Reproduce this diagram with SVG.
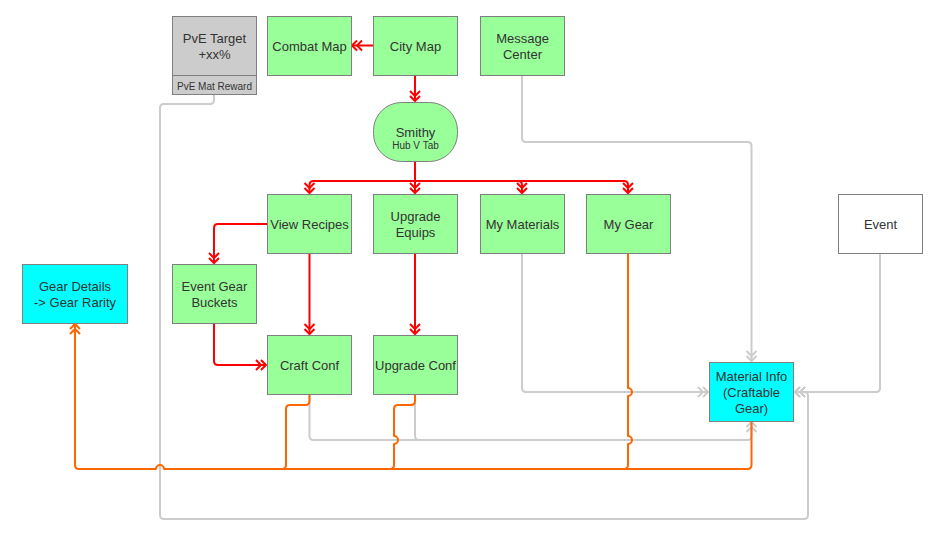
<svg xmlns="http://www.w3.org/2000/svg" width="943" height="543" viewBox="0 0 943 543">
<defs>
<style>
.n{stroke:#808080;stroke-width:1}
.g{fill:#99ff99}
.c{fill:#00ffff}
.t{font-family:"Liberation Sans",Arial,sans-serif;font-size:13px;fill:#333;text-anchor:middle}
.s{font-size:10px}
.e{fill:none;stroke-width:2;stroke-linejoin:round}
.red{stroke:#ff0000}
.gr{stroke:#cccccc}
.or{stroke:#ff6600}
</style>
<marker id="ar" markerUnits="userSpaceOnUse" markerWidth="14" markerHeight="14" refX="0" refY="0" orient="auto" overflow="visible"><path d="M-5,-5 L0,0 L-5,5 M-10,-5 L-5,0 L-10,5" fill="none" stroke="#ff0000" stroke-width="2"/></marker>
<marker id="ag" markerUnits="userSpaceOnUse" markerWidth="14" markerHeight="14" refX="0" refY="0" orient="auto" overflow="visible"><path d="M-5,-5 L0,0 L-5,5 M-10,-5 L-5,0 L-10,5" fill="none" stroke="#cccccc" stroke-width="2"/></marker>
<marker id="ao" markerUnits="userSpaceOnUse" markerWidth="14" markerHeight="14" refX="0" refY="0" orient="auto" overflow="visible"><path d="M-5,-5 L0,0 L-5,5 M-10,-5 L-5,0 L-10,5" fill="none" stroke="#ff6600" stroke-width="2"/></marker>
</defs>
<rect width="943" height="543" fill="#fff"/>
<g id="connectors">
<g id="gray">
<path class="e gr" d="M214,94 V100 Q214,104 210,104 H164 Q160,104 160,108 V515 Q160,519 164,519 H804 Q808,519 808,515 V396 Q808,392 804,392 H795" marker-end="url(#ag)"/>
<path class="e gr" d="M880,253 V388 Q880,392 876,392 H795" marker-end="url(#ag)"/>
<path class="e gr" d="M522,75 V138 Q522,142 526,142 H747.5 Q751.5,142 751.5,146 V361" marker-end="url(#ag)"/>
<path class="e gr" d="M522,253 V388 Q522,392 526,392 H708" marker-end="url(#ag)"/>
<path class="e gr" d="M309.5,394 V436 Q309.5,440 313.5,440 H747.5 Q751.5,440 751.5,436 V422" marker-end="url(#ag)"/>
<path class="e gr" d="M415,394 V436 Q415,440 419,440 H440"/>
</g>
<g id="red">
<path class="e red" d="M415,75 V101" marker-end="url(#ar)"/>
<path class="e red" d="M373,45.5 H352" marker-end="url(#ar)"/>
<path class="e red" d="M415,161 V193" marker-end="url(#ar)"/>
<path class="e red" d="M415,181 H313.5 Q309.5,181 309.5,185 V193" marker-end="url(#ar)"/>
<path class="e red" d="M415,181 H518 Q522,181 522,185 V193" marker-end="url(#ar)"/>
<path class="e red" d="M415,181 H624 Q628,181 628,185 V193" marker-end="url(#ar)"/>
<path class="e red" d="M267,224 H218 Q214,224 214,228 V263" marker-end="url(#ar)"/>
<path class="e red" d="M309.5,253 V334" marker-end="url(#ar)"/>
<path class="e red" d="M415,253 V334" marker-end="url(#ar)"/>
<path class="e red" d="M214,323 V361 Q214,365 218,365 H266" marker-end="url(#ar)"/>
</g>
<g id="orange">
<path class="e or" d="M751.5,421 V465 Q751.5,469 747.5,469 H164 A4,4 0 0 0 156,469 H79 Q75,469 75,465 V324" marker-end="url(#ao)"/>
<path class="e or" d="M309.5,394 V401 Q309.5,405 305.5,405 H290 Q286,405 286,409 V465 Q286,469 282,469"/>
<path class="e or" d="M415,394 V401 Q415,405 411,405 H398 Q394,405 394,409 V436 A4,4 0 0 1 394,444 V465 Q394,469 390,469"/>
<path class="e or" d="M628,253 V388 A4,4 0 0 1 628,396 V436 A4,4 0 0 1 628,444 V465 Q628,469 624,469"/>
</g>
</g>
<g id="pve-target">
<rect class="n" x="172.5" y="16.5" width="84" height="78" fill="#cccccc"/>
<line class="n" x1="172.5" y1="75.5" x2="256.5" y2="75.5"/>
<text class="t" x="214.5" y="43">PvE Target</text>
<text class="t" x="214.5" y="59">+xx%</text>
<text class="t s" x="214.5" y="90">PvE Mat Reward</text>
</g>
<g id="combat-map"><rect class="n g" x="267.5" y="16.5" width="84" height="59"/><text class="t" x="309.5" y="50.5">Combat Map</text></g>
<g id="city-map"><rect class="n g" x="373.5" y="16.5" width="84" height="59"/><text class="t" x="415.5" y="50.5">City Map</text></g>
<g id="message-center"><rect class="n g" x="480.5" y="16.5" width="84" height="59"/><text class="t" x="522.5" y="43">Message</text><text class="t" x="522.5" y="59">Center</text></g>
<g id="smithy"><rect class="n g" x="373.5" y="102.5" width="84" height="59" rx="28" ry="28"/><text class="t" x="415.5" y="137">Smithy</text><text class="t s" x="415.5" y="148.5">Hub V Tab</text></g>
<g id="view-recipes"><rect class="n g" x="267.5" y="194.5" width="84" height="59"/><text class="t" x="309.5" y="228.5">View Recipes</text></g>
<g id="upgrade-equips"><rect class="n g" x="373.5" y="194.5" width="84" height="59"/><text class="t" x="415.5" y="221">Upgrade</text><text class="t" x="415.5" y="237">Equips</text></g>
<g id="my-materials"><rect class="n g" x="480.5" y="194.5" width="84" height="59"/><text class="t" x="522.5" y="228.5">My Materials</text></g>
<g id="my-gear"><rect class="n g" x="586.5" y="194.5" width="84" height="59"/><text class="t" x="628.5" y="228.5">My Gear</text></g>
<g id="event"><rect class="n" x="838.5" y="194.5" width="84" height="59" fill="#fff"/><text class="t" x="880.5" y="228.5">Event</text></g>
<g id="gear-details"><rect class="n c" x="22.5" y="264.5" width="105" height="59"/><text class="t" x="75" y="291">Gear Details</text><text class="t" x="75" y="307">-&gt; Gear Rarity</text></g>
<g id="event-gear-buckets"><rect class="n g" x="172.5" y="264.5" width="84" height="59"/><text class="t" x="214.5" y="291">Event Gear</text><text class="t" x="214.5" y="307">Buckets</text></g>
<g id="craft-conf"><rect class="n g" x="267.5" y="335.5" width="84" height="59"/><text class="t" x="309.5" y="369.5">Craft Conf</text></g>
<g id="upgrade-conf"><rect class="n g" x="373.5" y="335.5" width="84" height="59"/><text class="t" x="415.5" y="369.5">Upgrade Conf</text></g>
<g id="material-info"><rect class="n c" x="709.5" y="362.5" width="84" height="59"/><text class="t" x="751.5" y="380.5">Material Info</text><text class="t" x="751.5" y="396.5">(Craftable</text><text class="t" x="751.5" y="412.5">Gear)</text></g>
</svg>
